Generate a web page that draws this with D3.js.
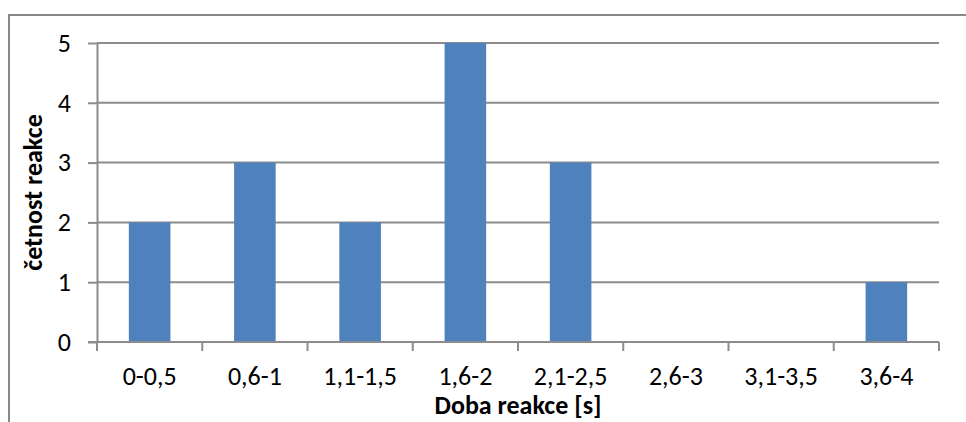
<!DOCTYPE html>
<html>
<head>
<meta charset="utf-8">
<script src="https://cdn.jsdelivr.net/npm/d3@7"></script>
<style>
  body { margin: 0; background: #fff; }
  text { font-family: Carlito, Lato, "Open Sans", sans-serif; fill: #000; }
</style>
</head>
<body>
<script>
// Data.
var categories = ["0-0,5", "0,6-1", "1,1-1,5", "1,6-2", "2,1-2,5", "2,6-3", "3,1-3,5", "3,6-4"],
  counts = [2, 3, 2, 5, 3, 0, 0, 1],
  yTicks = [0, 1, 2, 3, 4, 5],
  xTitle = "Doba reakce [s]",
  yTitle = "četnost reakce";

// Layout.
var width = 966,
  height = 422,
  plotLeft = 97,
  plotRight = 939,
  plotTop = 43,
  plotBottom = 342,
  barRatio = 0.395,
  fontSize = 26;

var svg = d3.select("body").append("svg")
  .attr("width", width)
  .attr("height", height);

// Chart frame (right and bottom edges fall outside the picture).
svg.append("rect")
  .attr("x", 9).attr("y", 15)
  .attr("width", 980).attr("height", 440)
  .attr("fill", "none")
  .attr("stroke", "#888")
  .attr("stroke-width", 2);

var x = d3.scaleBand().domain(categories).range([plotLeft, plotRight]).padding(0),
  y = d3.scaleLinear().domain([0, 5]).range([plotBottom, plotTop]);

// Gridlines.
svg.append("g").selectAll("line")
    .data(yTicks.filter(function(d) { return d > 0; }))
  .enter().append("line")
    .attr("x1", plotLeft).attr("x2", plotRight)
    .attr("y1", function(d) { return y(d); })
    .attr("y2", function(d) { return y(d); })
    .attr("stroke", "#8c8c8c")
    .attr("stroke-width", 2);

// Bars.
var bw = x.bandwidth() * barRatio;
svg.append("g").selectAll("rect")
    .data(counts)
  .enter().append("rect")
    .attr("x", function(d, i) { return x(categories[i]) + (x.bandwidth() - bw) / 2; })
    .attr("y", function(d) { return y(d); })
    .attr("width", bw)
    .attr("height", function(d) { return y(0) - y(d); })
    .attr("fill", "#4f81bd");

// Y axis.
var yAxis = svg.append("g")
  .attr("transform", "translate(" + plotLeft + ",0)")
  .call(d3.axisLeft(y).tickValues(yTicks).tickFormat(d3.format("d"))
    .tickSize(9).tickPadding(17).tickSizeOuter(0));
yAxis.select(".domain").attr("stroke", "#8c8c8c").attr("stroke-width", 2);
yAxis.selectAll(".tick line").attr("stroke", "#8c8c8c").attr("stroke-width", 2);
yAxis.selectAll(".tick text")
  .attr("font-family", null)
  .attr("font-size", null)
  .style("font-size", fontSize + "px")
  .attr("fill", "#000");

// X axis: ticks sit on the category boundaries.
var xAxis = svg.append("g")
  .attr("transform", "translate(0," + plotBottom + ")");
xAxis.append("line")
  .attr("x1", plotLeft - 9).attr("x2", plotRight)
  .attr("stroke", "#8c8c8c").attr("stroke-width", 2);
xAxis.selectAll(".xtick")
    .data(categories.concat([null]))
  .enter().append("line")
    .attr("class", "xtick")
    .attr("x1", function(d, i) { return plotLeft + i * x.step(); })
    .attr("x2", function(d, i) { return plotLeft + i * x.step(); })
    .attr("y1", 0).attr("y2", 9)
    .attr("stroke", "#8c8c8c").attr("stroke-width", 2);
xAxis.selectAll(".xlabel")
    .data(categories)
  .enter().append("text")
    .attr("class", "xlabel")
    .attr("x", function(d) { return x(d) + x.bandwidth() / 2; })
    .attr("y", 43)
    .attr("text-anchor", "middle")
    .style("font-size", fontSize + "px")
    .text(function(d) { return d; });

// Axis titles.
svg.append("text")
  .attr("x", (plotLeft + plotRight) / 2)
  .attr("y", 414)
  .attr("text-anchor", "middle")
  .style("font-size", fontSize + "px")
  .style("font-weight", "bold")
  .text(xTitle);

svg.append("text")
  .attr("transform", "translate(42," + (plotTop + plotBottom) / 2 + ") rotate(-90)")
  .attr("text-anchor", "middle")
  .style("font-size", fontSize + "px")
  .style("font-weight", "bold")
  .text(yTitle);
</script>
</body>
</html>
